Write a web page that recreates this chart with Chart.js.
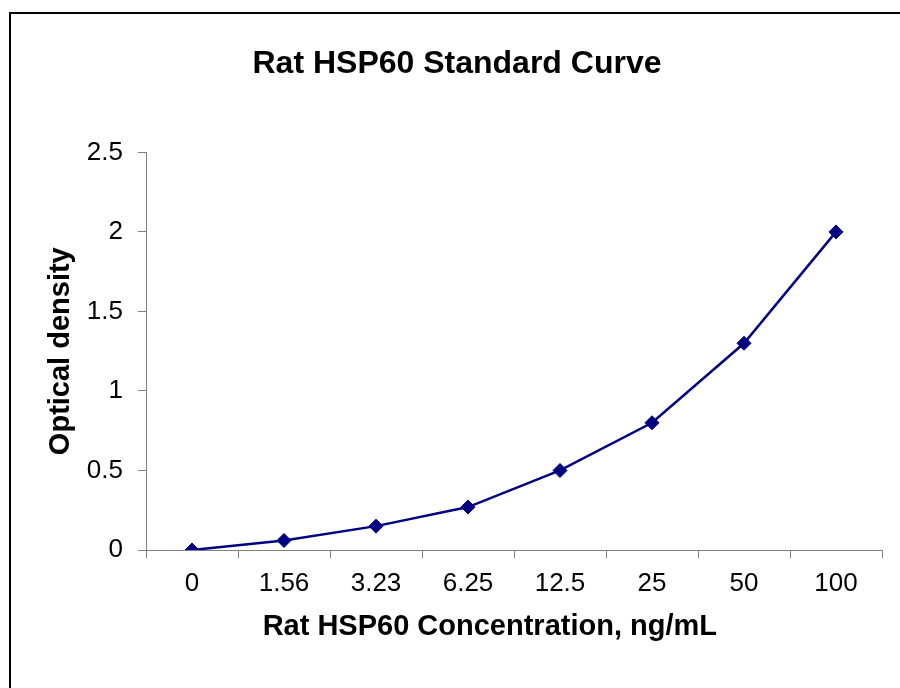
<!DOCTYPE html>
<html>
<head>
<meta charset="utf-8">
<script src="https://cdn.jsdelivr.net/npm/chart.js@4"></script>
<style>
  html, body { margin: 0; padding: 0; background: #fff; }
  #wrap { width: 900px; height: 688px; position: relative; }
</style>
</head>
<body>
<div id="wrap"><canvas id="c" width="900" height="688"></canvas></div>
<script>
const categories = ["0", "1.56", "3.23", "6.25", "12.5", "25", "50", "100"];
const opticalDensity = [0, 0.06, 0.15, 0.27, 0.50, 0.80, 1.30, 2.00];
const yTicks = [0, 0.5, 1, 1.5, 2, 2.5];
const chartTitle = "Rat HSP60 Standard Curve";
const xTitle = "Rat HSP60 Concentration, ng/mL";
const yTitle = "Optical density";

const FONT = "'Liberation Sans', Arial, Helvetica, sans-serif";
const AXIS_GREY = '#808080';

const frame = {
  id: 'frame',
  beforeDraw(chart) {
    const ctx = chart.ctx;
    ctx.save();
    ctx.fillStyle = '#fff';
    ctx.fillRect(0, 0, chart.width, chart.height);
    ctx.strokeStyle = '#000';
    ctx.lineWidth = 2;
    ctx.strokeRect(10, 13, chart.width + 20, chart.height + 20);
    ctx.restore();
  }
};

new Chart(document.getElementById('c'), {
  type: 'line',
  data: {
    labels: categories,
    datasets: [{
      data: opticalDensity,
      borderColor: '#000080',
      backgroundColor: '#000080',
      borderWidth: 2.5,
      pointStyle: 'rectRot',
      pointRadius: 7,
      pointBorderWidth: 1,
      pointBorderColor: '#000080',
      pointBackgroundColor: '#000080',
      tension: 0,
      fill: false
    }]
  },
  options: {
    responsive: false,
    animation: false,
    devicePixelRatio: 1,
    layout: { padding: { left: 32, right: 18, top: 0, bottom: 0 } },
    plugins: {
      legend: { display: false },
      tooltip: { enabled: false },
      title: {
        display: true,
        text: chartTitle,
        color: '#000',
        font: { family: FONT, size: 32, weight: 'bold', lineHeight: 1.2 },
        padding: { top: 45, bottom: 69 }
      }
    },
    scales: {
      x: {
        type: 'category',
        offset: true,
        grid: {
          display: true,
          drawOnChartArea: false,
          drawTicks: true,
          tickLength: 8,
          color: AXIS_GREY,
          lineWidth: 1,
          offset: true
        },
        border: { display: true, color: AXIS_GREY, width: 1 },
        ticks: {
          color: '#000',
          padding: 10,
          maxRotation: 0,
          autoSkip: false,
          font: { family: FONT, size: 26 }
        },
        title: {
          display: true,
          text: xTitle + '      ',
          color: '#000',
          font: { family: FONT, size: 29, weight: 'bold', lineHeight: 1.2 },
          padding: { top: 0, bottom: 44 }
        },
        afterFit(scale) { scale.height = 138; }
      },
      y: {
        min: 0,
        max: 2.5,
        afterBuildTicks(scale) { scale.ticks = yTicks.map(v => ({ value: v })); },
        grid: {
          display: true,
          drawOnChartArea: false,
          drawTicks: true,
          tickLength: 8,
          color: AXIS_GREY,
          lineWidth: 1
        },
        border: { display: true, color: AXIS_GREY, width: 1 },
        ticks: {
          color: '#000',
          padding: 15,
          font: { family: FONT, size: 26 },
          callback: (v) => String(v)
        },
        title: {
          display: true,
          text: yTitle,
          color: '#000',
          font: { family: FONT, size: 29, weight: 'bold', lineHeight: 1.2 },
          padding: { top: 12, bottom: 0 }
        },
        afterFit(scale) { scale.width = 114; }
      }
    }
  },
  plugins: [frame]
});
</script>
</body>
</html>
